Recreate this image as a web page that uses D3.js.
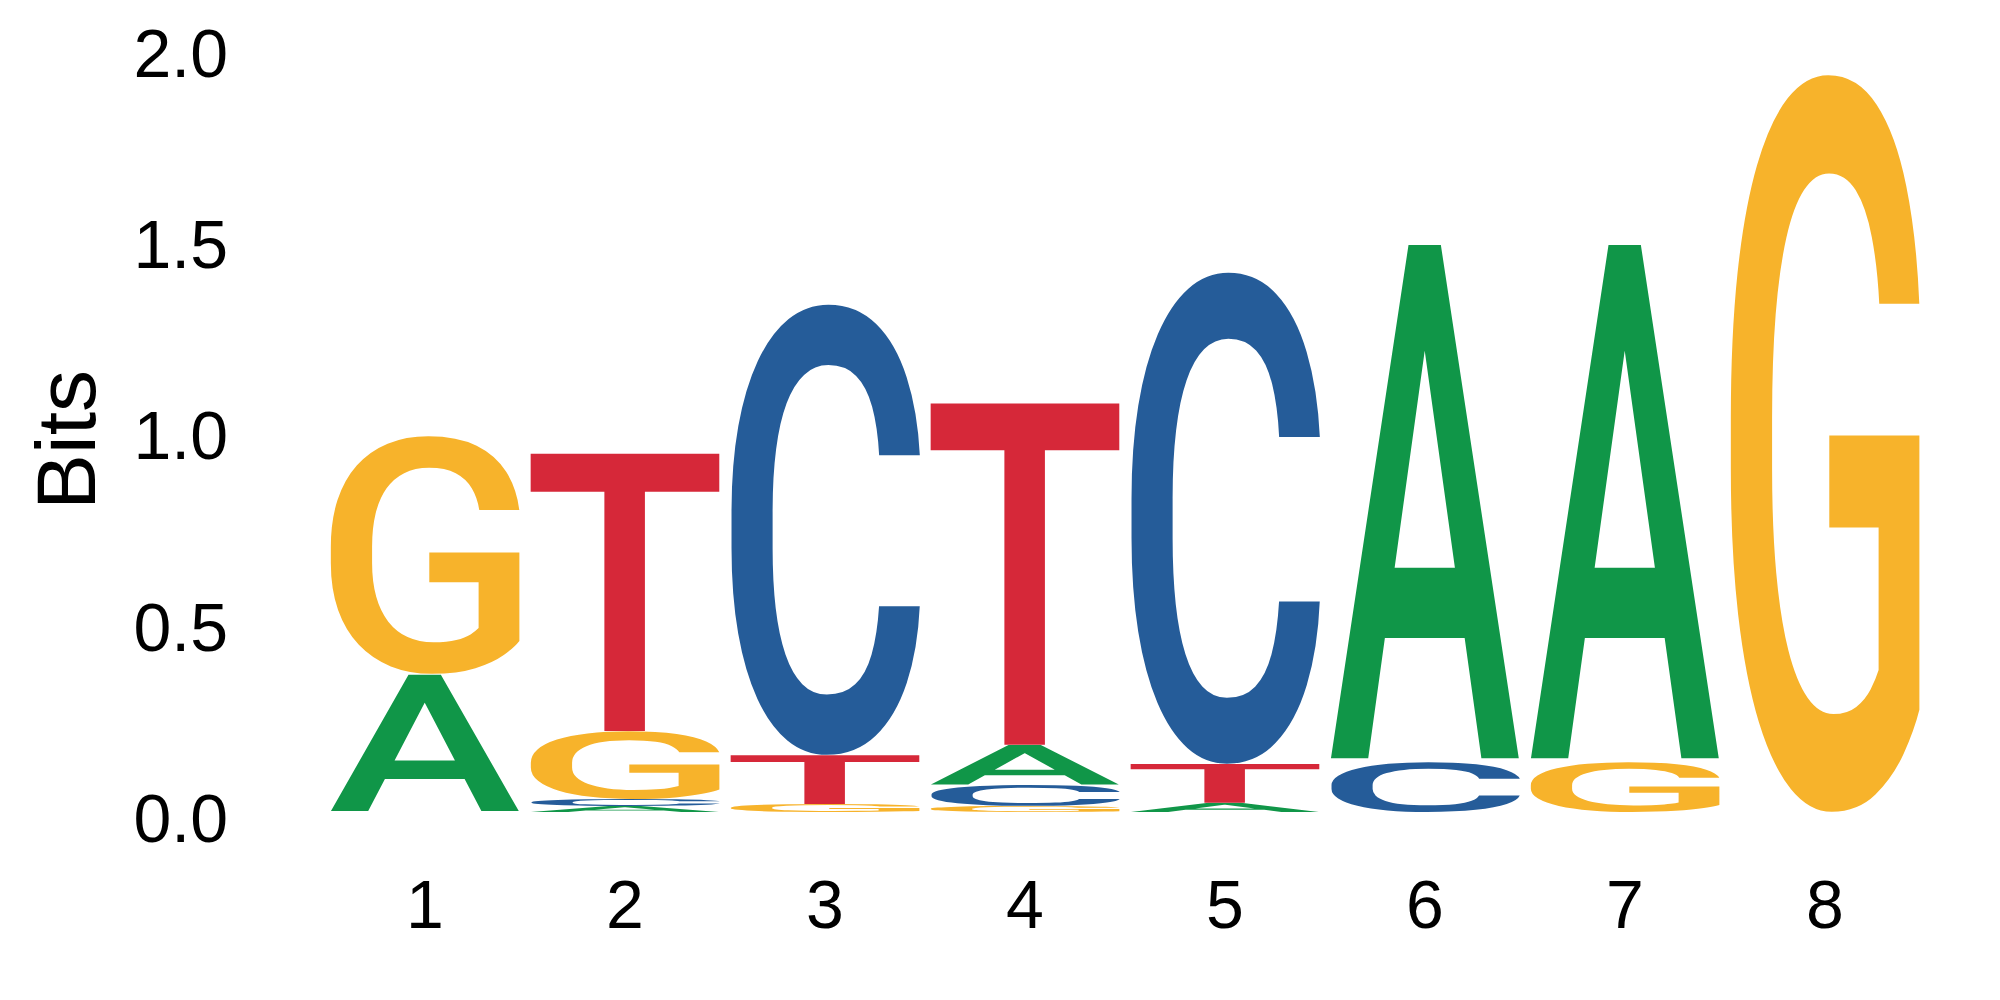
<!DOCTYPE html>
<html>
<head>
  <meta charset="utf-8">
  <title>Sequence logo</title>
  <script src="https://d3js.org/d3.v7.min.js"></script>
  <style>
    body { margin: 0; background: #fff; }
    svg { display: block; }
  </style>
</head>
<body>
  <svg width="2000" height="1000"></svg>

  <script>
    const positions = [1, 2, 3, 4, 5, 6, 7, 8];
    const bases = ["A", "C", "G", "T"];
    const bitsA = [0.361, 0.016, 0.000, 0.105, 0.024, 1.359, 1.359, 0.000];
    const bitsC = [0.000, 0.018, 1.184, 0.055, 1.291, 0.131, 0.000, 0.000];
    const bitsG = [0.625, 0.178, 0.021, 0.016, 0.000, 0.000, 0.131, 1.937];
    const bitsT = [0.000, 0.729, 0.128, 0.897, 0.102, 0.000, 0.000, 0.000];
    const yTicks = [0, 0.5, 1, 1.5, 2];

    const baseBits = { A: bitsA, C: bitsC, G: bitsG, T: bitsT };
    const baseColors = { A: "#109648", C: "#255C99", G: "#F7B32B", T: "#D62839" };

    const labelFont = "'Liberation Sans', Arial, Helvetica, sans-serif";
    const glyphFamily = "Roboto";
    const glyphWeight = 500;
    const glyphSize = 200;

    const svg = d3.select("svg");
    svg.append("rect").attr("width", 2000).attr("height", 1000).attr("fill", "#fff");

    // Scales
    const x = d3.scaleBand()
      .domain(positions)
      .range([325, 1925])
      .paddingInner(0.05)
      .paddingOuter(0.025);

    const y = d3.scaleLinear()
      .domain([0, 2])
      .range([812, 47]);

    // Ink bounds of each glyph, so a letter can be stretched to fill its box
    const ctx = document.createElement("canvas").getContext("2d");
    ctx.font = glyphWeight + " " + glyphSize + "px " + glyphFamily;
    function inkBox(ch) {
      const m = ctx.measureText(ch);
      return {
        left: -m.actualBoundingBoxLeft,
        right: m.actualBoundingBoxRight,
        top: -m.actualBoundingBoxAscent,
        bottom: m.actualBoundingBoxDescent
      };
    }

    // Build stacks: smallest at the bottom, largest on top
    const stacks = positions.map((p, i) => {
      const items = bases
        .map(b => ({ pos: p, base: b, bits: baseBits[b][i] }))
        .filter(d => d.bits > 0)
        .sort((a, b) => a.bits - b.bits);
      let cum = 0;
      items.forEach(d => { d.y0 = cum; cum += d.bits; d.y1 = cum; });
      return items;
    });
    const letters = stacks.flat();

    const logo = svg.append("g").attr("class", "logo");

    logo.selectAll("text.letter")
      .data(letters)
      .enter().append("text")
      .attr("class", "letter")
      .attr("x", 0)
      .attr("y", 0)
      .attr("font-family", glyphFamily)
      .attr("font-weight", glyphWeight)
      .attr("font-size", glyphSize)
      .attr("fill", d => baseColors[d.base])
      .attr("transform", d => {
        const box = inkBox(d.base);
        const x0 = x(d.pos);
        const w = x.bandwidth();
        const top = y(d.y1);
        const bottom = y(d.y0);
        const sx = w / (box.right - box.left);
        const sy = (bottom - top) / (box.bottom - box.top);
        return "translate(" + (x0 - box.left * sx) + "," + (top - box.top * sy) + ") scale(" + sx + "," + sy + ")";
      })
      .text(d => d.base);

    // Y axis: labels only
    svg.append("g")
      .attr("transform", "translate(228,0)")
      .call(d3.axisLeft(y).tickValues(yTicks).tickFormat(d3.format(".1f")).tickSize(0).tickPadding(0))
      .call(g => g.select(".domain").remove())
      .attr("font-family", labelFont)
      .attr("font-size", 68)
      .selectAll("text")
      .attr("fill", "#000")
      .attr("dy", "0.43em");

    // X axis: position numbers
    svg.append("g")
      .attr("transform", "translate(0,928)")
      .call(d3.axisBottom(x).tickSize(0).tickPadding(0))
      .call(g => g.select(".domain").remove())
      .attr("font-family", labelFont)
      .attr("font-size", 68)
      .selectAll("text")
      .attr("fill", "#000")
      .attr("y", 0)
      .attr("dy", 0);

    // Y axis title
    svg.append("text")
      .attr("transform", "translate(95,440) rotate(-90)")
      .attr("text-anchor", "middle")
      .attr("font-family", labelFont)
      .attr("font-size", 84)
      .attr("fill", "#000")
      .text("Bits");
  </script>
</body>
</html>
